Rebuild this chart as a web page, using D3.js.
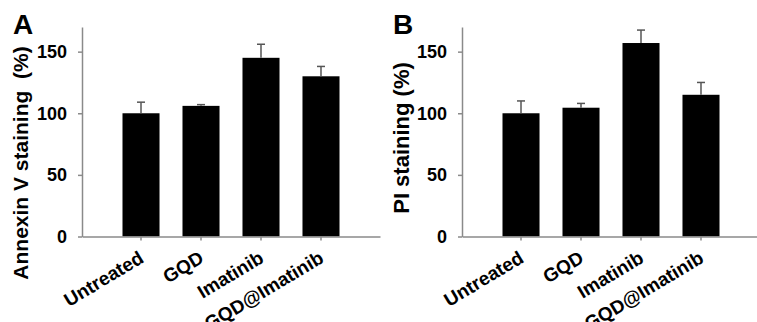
<!DOCTYPE html>
<html>
<head>
<meta charset="utf-8">
<script src="https://cdn.jsdelivr.net/npm/d3@7"></script>
<style>
  body { margin: 0; background: #fff; }
  svg { display: block; font-family: "Liberation Sans", Arial, sans-serif; }
  .axis path, .axis line { stroke: #8a8a8a; stroke-width: 1.5; }
  .axis text { font-size: 18px; font-weight: bold; fill: #000; }
  .x-axis text { font-size: 19px; }
</style>
</head>
<body>
<svg id="chart" width="757" height="322"></svg>
<script>
// categories and values
const categories = ["Untreated", "GQD", "Imatinib", "GQD@Imatinib"];
const yTicks = [0, 50, 100, 150];

const annexinMean = [100, 106, 145, 130];
const annexinErr = [9, 1, 11, 8];

const piMean = [100, 104.5, 157, 115];
const piErr = [10, 3.5, 10.5, 10];

const svg = d3.select("#chart");

function drawPanel(opts) {
  const g = svg.append("g");

  const x = d3.scaleBand()
    .domain(categories)
    .range([opts.left, opts.right])
    .paddingInner(0.383)
    .paddingOuter(0.675);

  const y = d3.scaleLinear()
    .domain([0, 170])
    .range([236.5, 27]);

  // bars
  g.selectAll(".bar")
    .data(opts.mean)
    .enter()
    .append("rect")
    .attr("x", (d, i) => x(categories[i]))
    .attr("y", d => y(d))
    .attr("width", x.bandwidth())
    .attr("height", d => y(0) - y(d))
    .attr("fill", "#000");

  // error bars (upper only)
  const cx = i => x(categories[i]) + x.bandwidth() / 2;
  g.selectAll(".err")
    .data(opts.mean)
    .enter()
    .append("line")
    .attr("x1", (d, i) => cx(i))
    .attr("x2", (d, i) => cx(i))
    .attr("y1", d => y(d))
    .attr("y2", (d, i) => y(d + opts.err[i]))
    .attr("stroke", "#555")
    .attr("stroke-width", 1.5);

  g.selectAll(".cap")
    .data(opts.mean)
    .enter()
    .append("line")
    .attr("x1", (d, i) => cx(i) - 4)
    .attr("x2", (d, i) => cx(i) + 4)
    .attr("y1", (d, i) => y(d + opts.err[i]))
    .attr("y2", (d, i) => y(d + opts.err[i]))
    .attr("stroke", "#555")
    .attr("stroke-width", 1.5);

  // y axis
  g.append("g")
    .attr("class", "axis")
    .attr("transform", `translate(${opts.left},0)`)
    .call(d3.axisLeft(y).tickValues(yTicks).tickSize(4).tickPadding(11).tickSizeOuter(0));

  // x axis
  const xAxis = g.append("g")
    .attr("class", "axis x-axis")
    .attr("transform", `translate(0,${y(0)})`)
    .call(d3.axisBottom(x).tickSize(4).tickSizeOuter(0));

  xAxis.selectAll("text")
    .attr("x", 0)
    .attr("y", 0)
    .attr("dy", 0)
    .attr("text-anchor", "end")
    .attr("transform", "translate(4,25) rotate(-31)");

  // panel letter
  g.append("text")
    .attr("x", opts.letterX)
    .attr("y", 34)
    .attr("font-size", 28)
    .attr("font-weight", "bold")
    .text(opts.letter);

  // y title
  g.append("text")
    .attr("transform", `translate(${opts.titleX},${opts.titleY}) rotate(-90)`)
    .attr("text-anchor", "middle")
    .attr("font-size", opts.titleSize)
    .attr("font-weight", "bold")
    .style("white-space", "pre")
    .text(opts.title);
}

drawPanel({
  left: 82, right: 380,
  mean: annexinMean, err: annexinErr,
  letter: "A", letterX: 13,
  title: "Annexin V staining  (%)", titleX: 28, titleY: 163, titleSize: 21
});

drawPanel({
  left: 462, right: 760,
  mean: piMean, err: piErr,
  letter: "B", letterX: 393,
  title: "PI staining (%)", titleX: 409, titleY: 138, titleSize: 22
});
</script>
</body>
</html>
